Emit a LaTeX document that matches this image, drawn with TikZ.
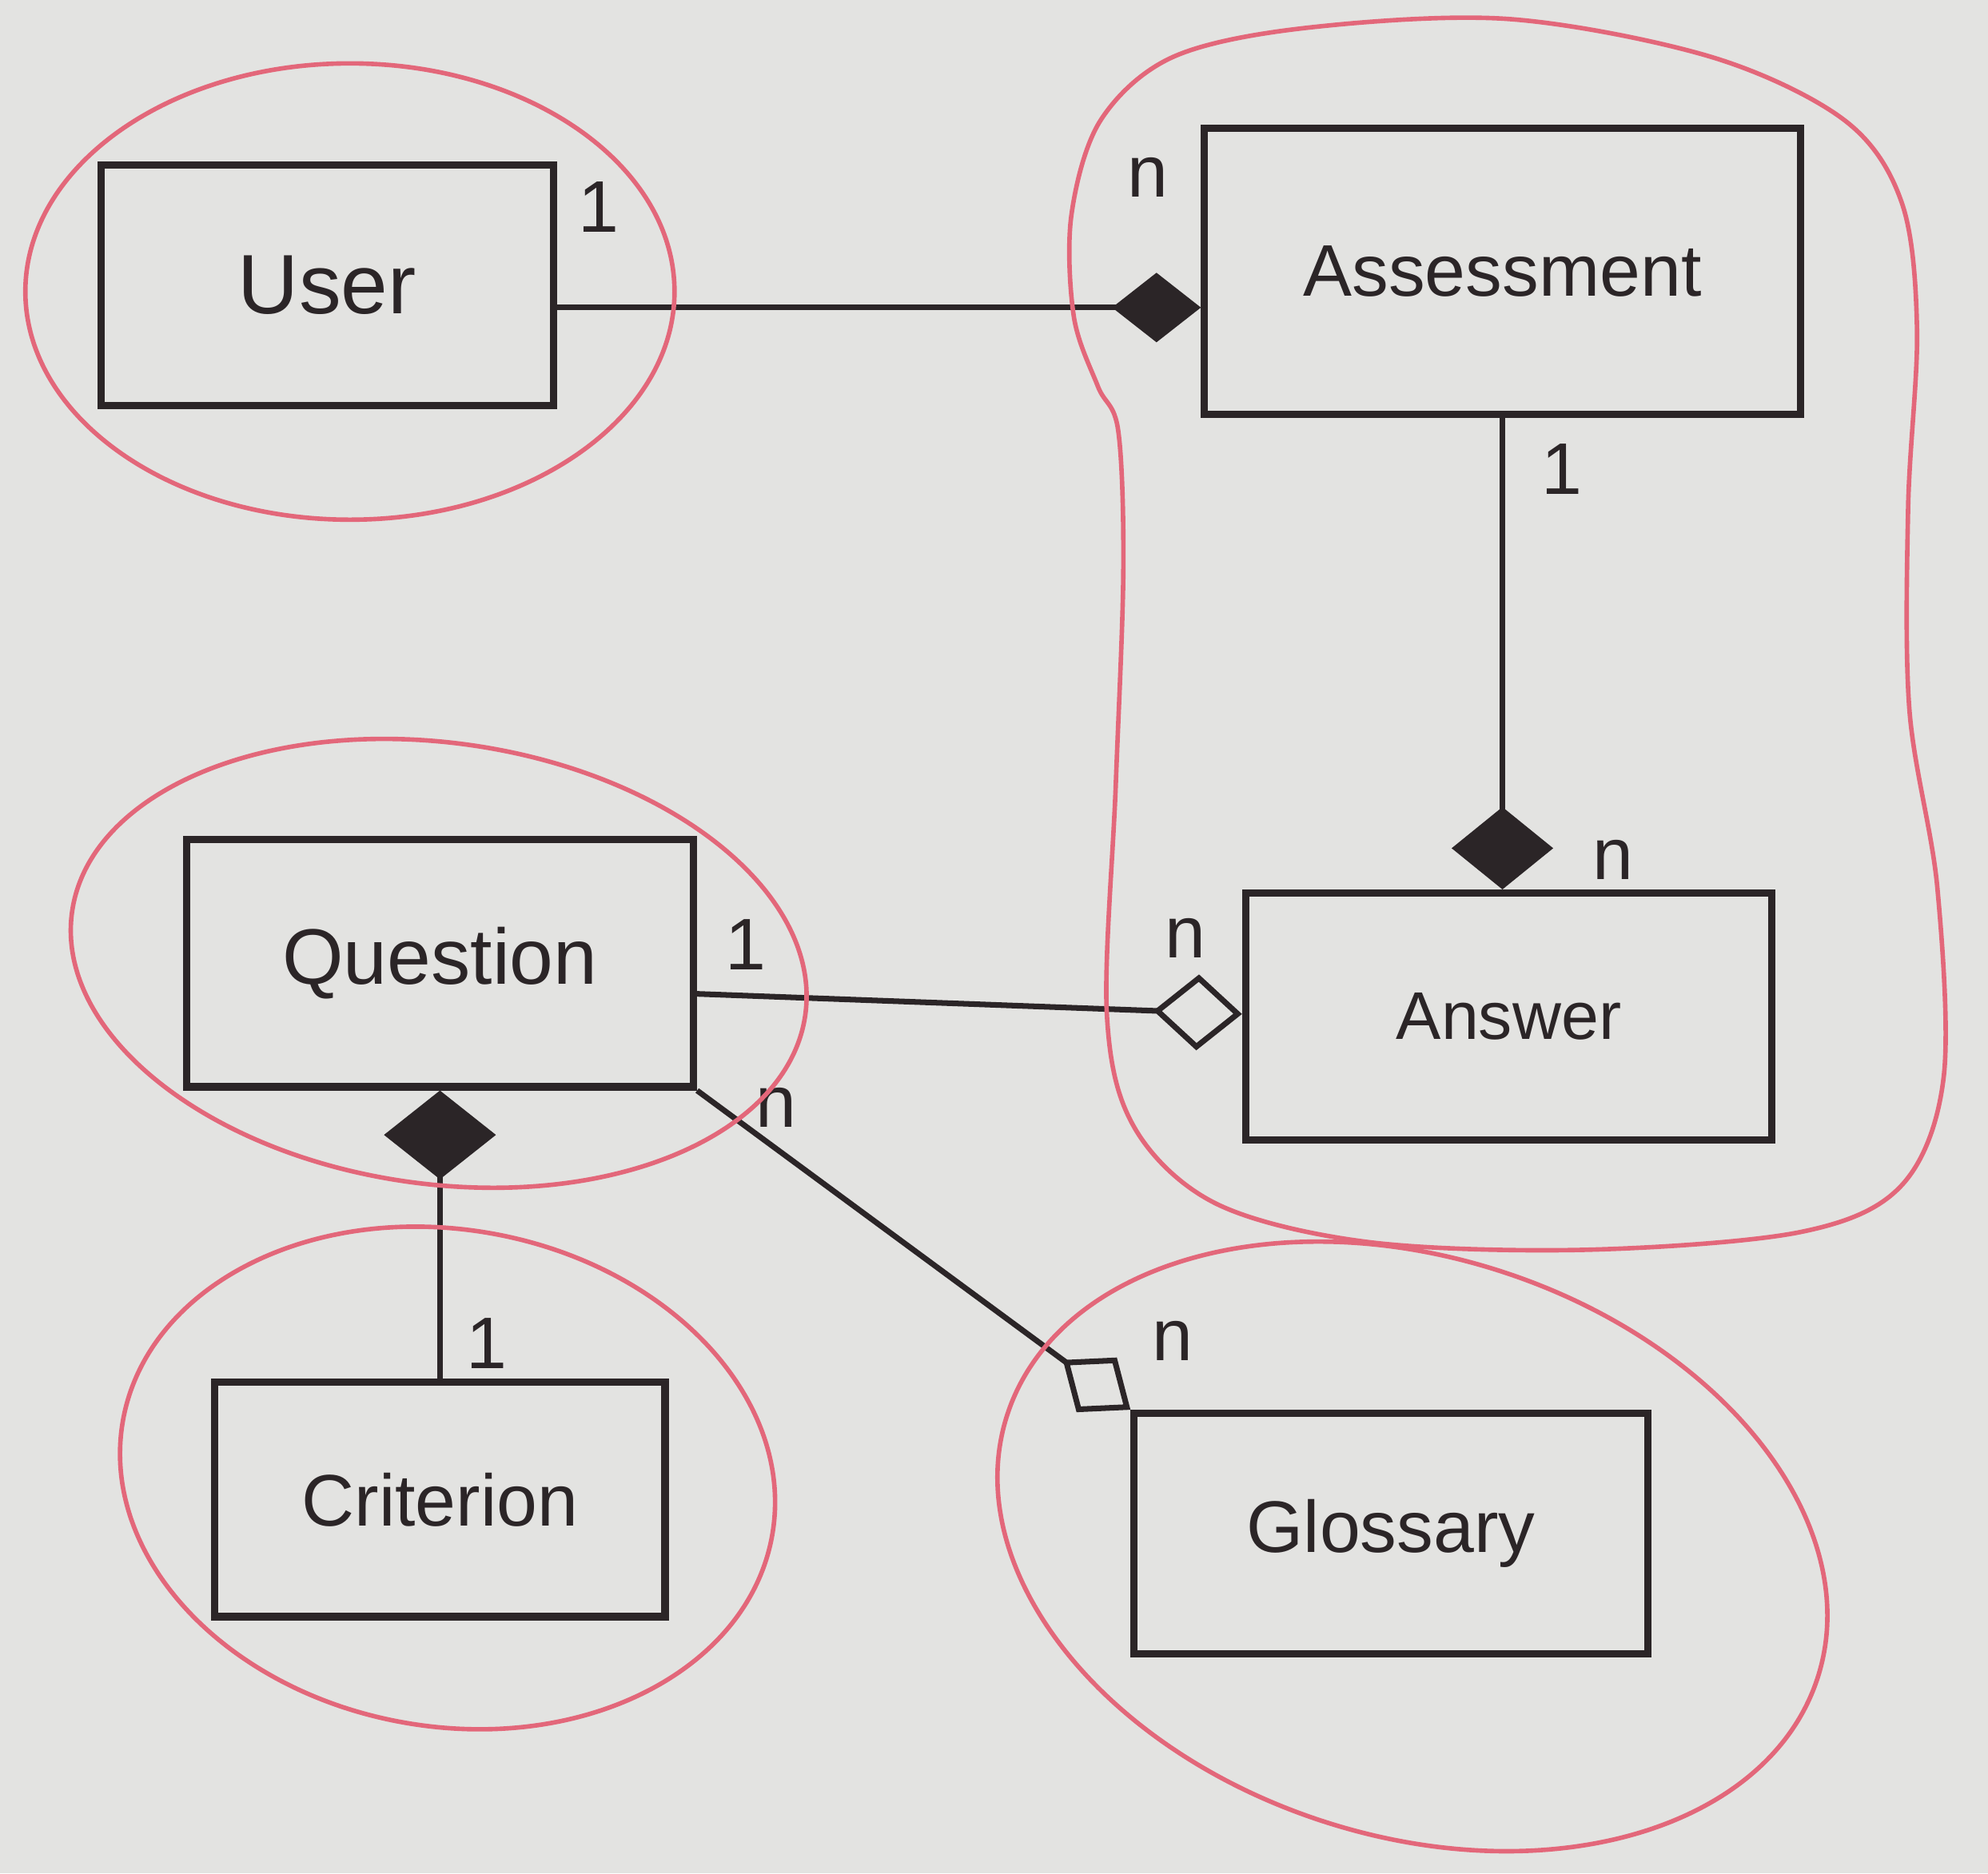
\documentclass[tikz,border=0pt]{standalone}
\usepackage{fontspec}
\setmainfont{Liberation Sans}
\usetikzlibrary{arrows.meta,calc}
\definecolor{board}{HTML}{E3E3E1}
\definecolor{ink}{HTML}{2B2527}
\definecolor{redmk}{HTML}{E3677A}
\begin{document}
\begin{tikzpicture}[x=0.015861cm,y=-0.015861cm,
  cls/.style={draw=ink, line width=2.6pt, inner sep=0pt, text=ink},
  conn/.style={draw=ink, line width=2pt},
  mult/.style={font=\fontsize{26}{28}\selectfont, text=ink, inner sep=0pt},
  grp/.style={draw=redmk, line width=1.6pt}]
\fill[board] (0,0) rectangle (1568,1478);
\useasboundingbox (0,0) rectangle (1568,1478);

% classes
\node[cls, minimum width=5.66cm, minimum height=3.01cm, font=\fontsize{30}{34}\selectfont] (user) at (258,225) {User};
\node[cls, minimum width=7.45cm, minimum height=3.58cm, font=\fontsize{26}{30}\selectfont] (assess) at (1185,214) {Assessment};
\node[cls, minimum width=6.58cm, minimum height=3.09cm, font=\fontsize{24}{28}\selectfont] (answer) at (1190,802) {Answer};
\node[cls, minimum width=6.34cm, minimum height=3.09cm, font=\fontsize{28}{32}\selectfont] (question) at (347,760) {Question};
\node[cls, minimum width=5.63cm, minimum height=2.93cm, font=\fontsize{26}{30}\selectfont] (criterion) at (347,1183) {Criterion};
\node[cls, minimum width=6.42cm, minimum height=3.01cm, font=\fontsize{26}{30}\selectfont] (glossary) at (1097,1210) {Glossary};

% connectors
\coordinate (ua) at ($(user.south east)!0.41!(user.north east)$);
\draw[conn, -{Diamond[length=1.11cm,width=0.87cm]}] (ua) -- (ua -| assess.west);
\draw[conn, -{Diamond[length=1.03cm,width=1.27cm]}] (assess.south) -- (assess.south |- answer.north);
\draw[conn, -{Diamond[open,length=1.11cm,width=0.95cm]}] ($(question.north east)!0.62!(question.south east)$) -- ($(answer.north west)!0.49!(answer.south west)$);
\draw[conn, {Diamond[length=1.11cm,width=1.4cm]}-] (question.south) -- (question.south |- criterion.north);
\draw[conn, -{Diamond[open,length=1.05cm,width=0.85cm]}] (question.south east) -- (glossary.north west);

% multiplicities
\node[mult] (m1) at (472,163) {1};
\node[mult] (m2) at (905,140) {n};
\node[mult] (m3) at (1232,370) {1};
\node[mult] (m4) at (1272,678) {n};
\node[mult] (m5) at (588,745) {1};
\node[mult] (m6) at (935,740) {n};
\node[mult] (m7) at (612,874) {n};
\node[mult] (m8) at (384,1060) {1};
\node[mult] (m9) at (925,1058) {n};

% red groupings
\draw[grp] (276,230) ellipse [x radius=256, y radius=180];
\draw[grp, rotate around={-8:(346,760)}] (346,760) ellipse [x radius=292, y radius=174];
\draw[grp, rotate around={-10:(353,1166)}] (353,1166) ellipse [x radius=260, y radius=196];
\draw[grp, rotate around={-18:(1114,1220)}] (1114,1220) ellipse [x radius=336, y radius=228];
\draw[grp] plot[smooth cycle, tension=0.55] coordinates {
  (882,340) (886,450) (880,620) (873,800) (895,890) (960,950) (1080,980)
  (1250,986) (1420,972) (1500,935) (1533,850) (1528,700) (1506,560)
  (1505,400) (1512,260) (1500,160) (1455,95) (1350,45) (1190,15)
  (1030,22) (925,45) (868,95) (845,170) (847,250) (866,305)};
\end{tikzpicture}
\end{document}
